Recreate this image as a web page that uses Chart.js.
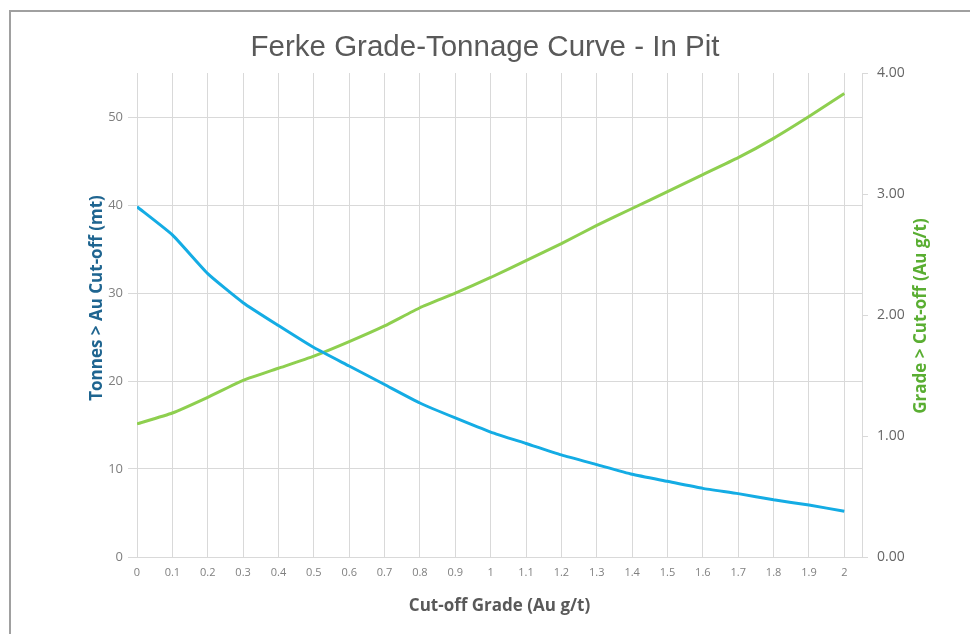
<!DOCTYPE html>
<html>
<head>
<meta charset="utf-8">
<script src="https://cdn.jsdelivr.net/npm/chart.js@4/dist/chart.umd.min.js"></script>
<style>
  html, body { margin: 0; padding: 0; background: #fff; }
  #wrap { position: relative; width: 970px; height: 634px; overflow: hidden; }
  #frame { position: absolute; left: 9px; top: 10px; width: 980px; height: 640px;
           border-top: 2px solid #a0a0a0; border-left: 2px solid #a0a0a0; pointer-events: none; }
  canvas { position: absolute; left: 0; top: 0; }
</style>
</head>
<body>
<div id="wrap">
  <canvas id="c" width="970" height="634"></canvas>
  <div id="frame"></div>
</div>
<script>
const cutoffGrades = [0, 0.1, 0.2, 0.3, 0.4, 0.5, 0.6, 0.7, 0.8, 0.9, 1.0, 1.1, 1.2, 1.3, 1.4, 1.5, 1.6, 1.7, 1.8, 1.9, 2.0];
const tonnesAboveCutoff = [39.8, 36.6, 32.2, 28.9, 26.3, 23.8, 21.7, 19.6, 17.5, 15.8, 14.2, 12.9, 11.6, 10.5, 9.4, 8.6, 7.8, 7.2, 6.5, 5.9, 5.2];
const gradeAboveCutoff = [1.10, 1.19, 1.32, 1.46, 1.56, 1.66, 1.78, 1.91, 2.06, 2.18, 2.31, 2.45, 2.59, 2.74, 2.88, 3.02, 3.16, 3.30, 3.46, 3.64, 3.83];
const leftTicks = [0, 10, 20, 30, 40, 50];
const rightTicks = [0, 1, 2, 3, 4];

const titleText = 'Ferke Grade-Tonnage Curve - In Pit';
const leftTitle = 'Tonnes > Au Cut-off (mt)';
const rightTitle = 'Grade > Cut-off (Au g/t)';
const xTitle = 'Cut-off Grade (Au g/t)';

const gridColor = '#d9d9d9';

const yTitles = {
  id: 'yTitles',
  afterDraw(chart) {
    const ctx = chart.ctx;
    const ca = chart.chartArea;
    ctx.save();
    ctx.font = 'bold 17px "Open Sans"';
    ctx.textAlign = 'center';
    ctx.textBaseline = 'middle';
    ctx.fillStyle = '#1f6590';
    ctx.translate(97, (ca.top + ca.bottom) / 2 - 17);
    ctx.rotate(-Math.PI / 2);
    ctx.fillText(leftTitle, 0, 0);
    ctx.restore();
    ctx.save();
    ctx.font = 'bold 17px "Open Sans"';
    ctx.textAlign = 'center';
    ctx.textBaseline = 'middle';
    ctx.fillStyle = '#5aae32';
    ctx.translate(921, (ca.top + ca.bottom) / 2 + 1);
    ctx.rotate(-Math.PI / 2);
    ctx.fillText(rightTitle, 0, 0);
    ctx.restore();
  }
};

new Chart(document.getElementById('c'), {
  type: 'line',
  data: {
    datasets: [
      {
        label: leftTitle,
        data: cutoffGrades.map((g, i) => ({ x: g, y: tonnesAboveCutoff[i] })),
        borderColor: '#14ace4',
        backgroundColor: '#14ace4',
        borderWidth: 3,
        pointRadius: 0,
        tension: 0.15,
        yAxisID: 'y'
      },
      {
        label: rightTitle,
        data: cutoffGrades.map((g, i) => ({ x: g, y: gradeAboveCutoff[i] })),
        borderColor: '#8ecf4f',
        backgroundColor: '#8ecf4f',
        borderWidth: 3,
        pointRadius: 0,
        tension: 0.15,
        yAxisID: 'y1'
      }
    ]
  },
  options: {
    responsive: false,
    devicePixelRatio: 1,
    animation: false,
    layout: { padding: 0 },
    plugins: {
      legend: { display: false },
      tooltip: { enabled: false },
      title: {
        display: true,
        text: titleText,
        color: '#595959',
        font: { family: '"Liberation Sans", Arial, sans-serif', size: 29.5, weight: 'normal', lineHeight: 1.2 },
        padding: { top: 30.3, bottom: 7.3 }
      }
    },
    scales: {
      x: {
        type: 'linear',
        min: 0,
        max: 2.05,
        afterBuildTicks(scale) {
          scale.ticks = cutoffGrades.map(v => ({ value: v }));
        },
        afterFit(scale) { scale.height = 77; },
        ticks: {
          color: '#7f7f7f',
          font: { family: '"Open Sans"', size: 11 },
          padding: 9,
          maxRotation: 0,
          autoSkip: false,
          callback: v => String(Number(v.toFixed(1)))
        },
        grid: { color: gridColor, drawTicks: false },
        border: { color: gridColor },
        title: {
          display: true,
          text: xTitle,
          color: '#595959',
          font: { family: '"Open Sans"', size: 17, weight: 'bold', lineHeight: 1.2 },
          padding: { top: 4, bottom: 17.5 }
        }
      },
      y: {
        type: 'linear',
        position: 'left',
        min: 0,
        max: 55,
        afterBuildTicks(scale) {
          scale.ticks = leftTicks.map(v => ({ value: v }));
        },
        afterFit(scale) { scale.width = 137; },
        ticks: {
          color: '#7f7f7f',
          font: { family: '"Open Sans"', size: 13 },
          padding: 5
        },
        grid: { color: gridColor, tickLength: 9 },
        border: { color: gridColor }
      },
      y1: {
        type: 'linear',
        position: 'right',
        min: 0,
        max: 4,
        afterBuildTicks(scale) {
          scale.ticks = rightTicks.map(v => ({ value: v }));
        },
        afterFit(scale) { scale.width = 108; },
        ticks: {
          color: '#666666',
          font: { family: '"Open Sans"', size: 14 },
          padding: 9,
          callback: v => v.toFixed(2)
        },
        grid: { color: gridColor, drawOnChartArea: false, tickLength: 6 },
        border: { color: gridColor }
      }
    }
  },
  plugins: [yTitles]
});
</script>
</body>
</html>
